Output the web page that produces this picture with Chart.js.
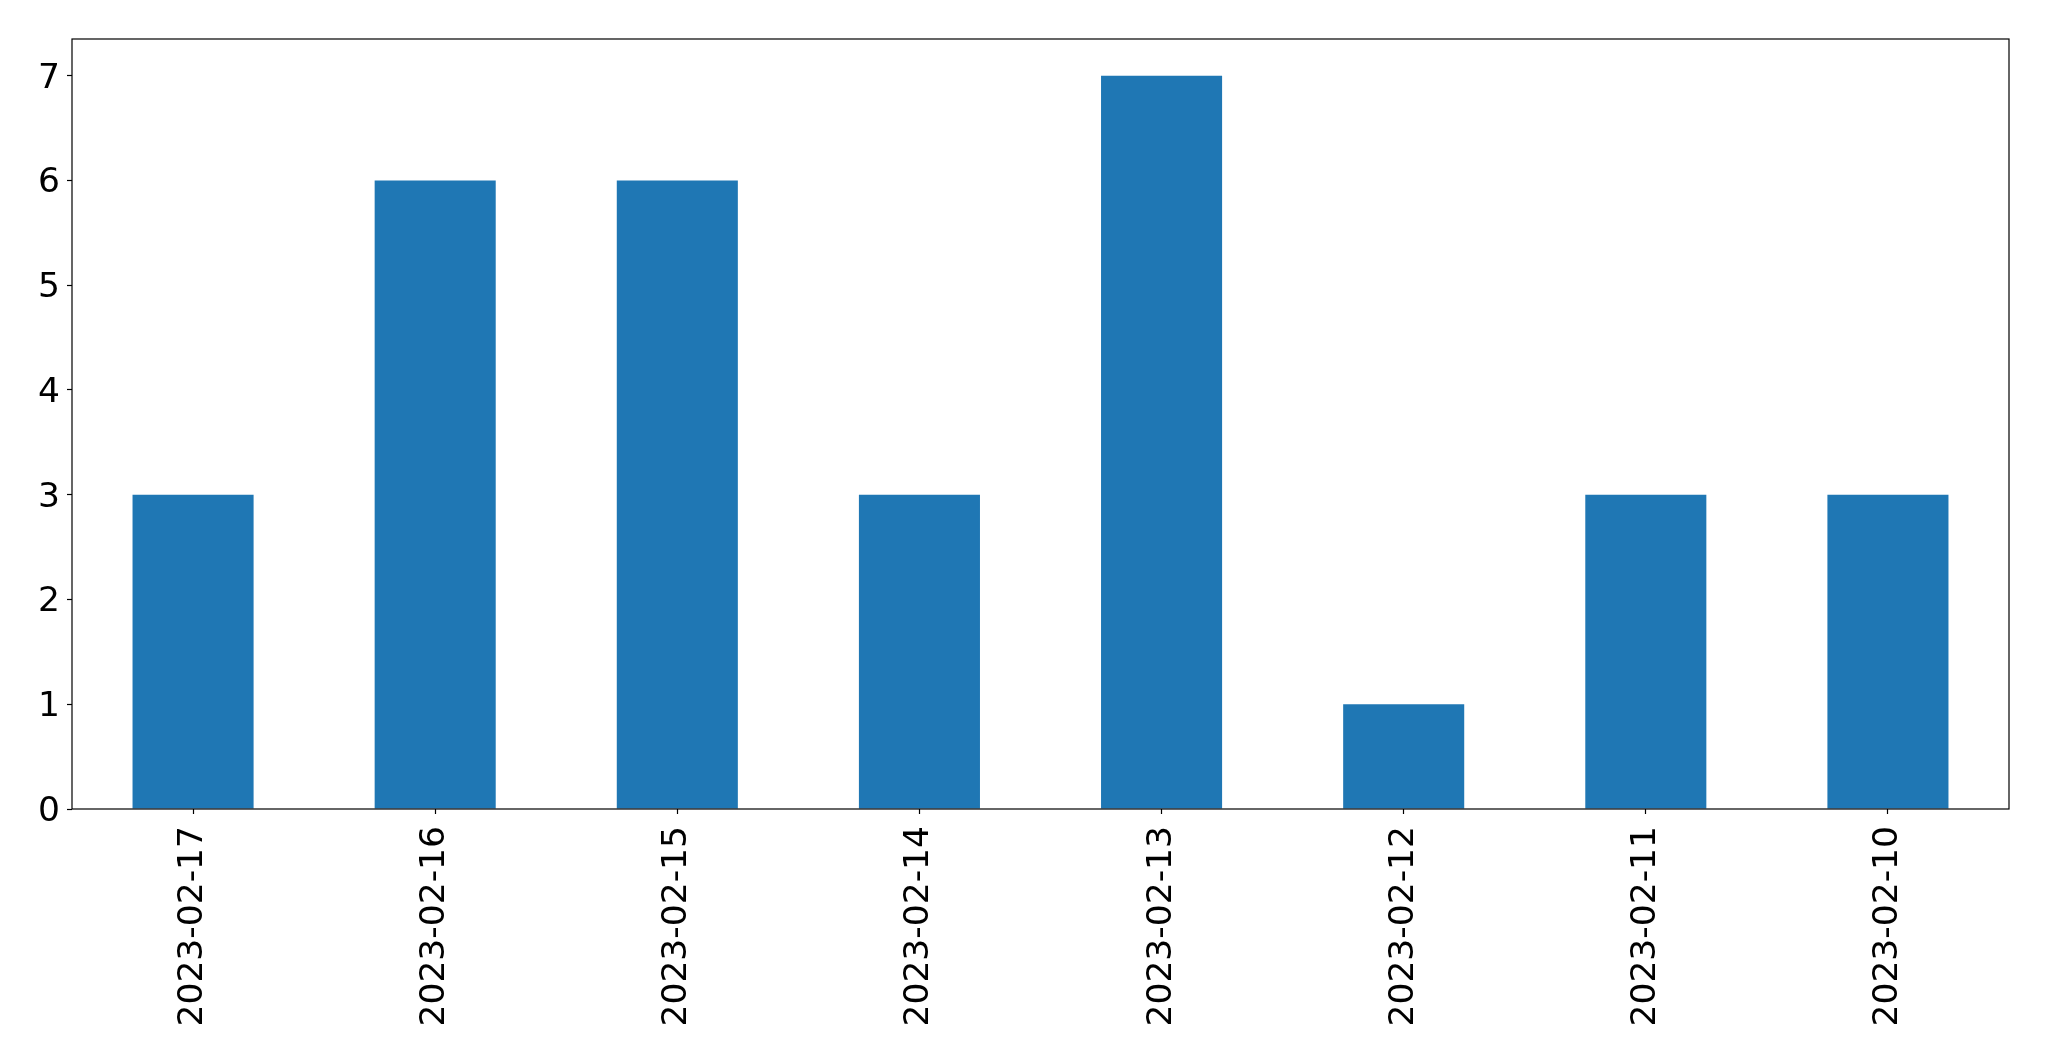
<!DOCTYPE html>
<html>
<head>
<meta charset="utf-8">
<script src="https://cdn.jsdelivr.net/npm/chart.js@4/dist/chart.umd.min.js"></script>
<style>
html,body{margin:0;padding:0;background:#fff;}
#wrap{width:2049px;height:1061px;position:relative;}
</style>
</head>
<body>
<div id="wrap"><canvas id="c" width="2049" height="1061"></canvas></div>
<script>
const categories = ["2023-02-17","2023-02-16","2023-02-15","2023-02-14","2023-02-13","2023-02-12","2023-02-11","2023-02-10"];
const counts = [3, 6, 6, 3, 7, 1, 3, 3];
const yTicks = [0, 1, 2, 3, 4, 5, 6, 7];

const frame = {
  id: 'frame',
  afterDraw(chart) {
    const a = chart.chartArea, ctx = chart.ctx;
    ctx.save();
    ctx.strokeStyle = '#000';
    ctx.lineWidth = 1.2;
    ctx.strokeRect(a.left, a.top, a.right - a.left, a.bottom - a.top);
    ctx.restore();
  }
};

new Chart(document.getElementById('c'), {
  type: 'bar',
  data: {
    labels: categories,
    datasets: [{ data: counts, backgroundColor: '#1f77b4', borderWidth: 0, barPercentage: 0.5, categoryPercentage: 1.0 }]
  },
  options: {
    responsive: false,
    animation: false,
    devicePixelRatio: 1,
    layout: { padding: { top: 39, right: 40, left: 0, bottom: 0 } },
    plugins: { legend: { display: false }, tooltip: { enabled: false } },
    scales: {
      x: {
        grid: { display: true, drawOnChartArea: false, offset: false, tickLength: 5, tickColor: '#000', tickWidth: 1.2 },
        border: { display: false },
        ticks: { color: '#000', font: { family: 'DejaVu Sans', size: 34.5 }, minRotation: 90, maxRotation: 90, padding: 12, autoSkip: false },
        afterFit(s) { s.height = 252; }
      },
      y: {
        min: 0, max: 7.35,
        grid: { display: true, drawOnChartArea: false, tickLength: 5, tickColor: '#000', tickWidth: 1.2 },
        border: { display: false },
        afterBuildTicks(s) { s.ticks = yTicks.map(v => ({ value: v })); },
        ticks: { color: '#000', font: { family: 'DejaVu Sans', size: 34.5 }, padding: 7, stepSize: 1, labelOffset: 3 },
        afterFit(s) { s.width = 72; }
      }
    }
  },
  plugins: [frame]
});
</script>
</body>
</html>
